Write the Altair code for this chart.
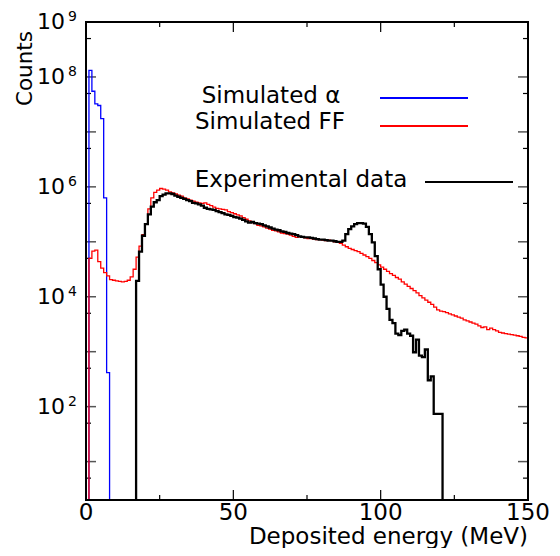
import altair as alt
import pandas as pd

# ---- data (log10 of counts per 1 MeV bin) ----
alpha_start = 1
alpha_log10 = [8.12, 7.74, 7.51, 7.48, 7.24, 5.80, 2.62]

ff_start = 1
ff_log10 = [
    4.70, 4.83, 4.85, 4.64, 4.52, 4.44, 4.38, 4.31, 4.30, 4.29,
    4.28, 4.27, 4.28, 4.30, 4.36, 4.50, 4.72, 4.92, 5.13, 5.33,
    5.60, 5.80, 5.90, 5.94, 5.97, 5.96, 5.94, 5.91, 5.89, 5.87,
    5.85, 5.83, 5.80, 5.78, 5.76, 5.74, 5.72, 5.71, 5.70, 5.71,
    5.68, 5.66, 5.63, 5.61, 5.60, 5.59, 5.58, 5.55, 5.53, 5.51,
    5.49, 5.47, 5.44, 5.41, 5.38, 5.35, 5.33, 5.30, 5.29, 5.27,
    5.25, 5.23, 5.21, 5.20, 5.18, 5.16, 5.15, 5.14, 5.12, 5.10,
    5.08, 5.09, 5.08, 5.07, 5.06, 5.06, 5.05, 5.04, 5.04, 5.03,
    5.02, 5.03, 5.02, 5.00, 4.99, 4.97, 4.94, 4.91, 4.88, 4.86,
    4.84, 4.82, 4.79, 4.76, 4.73, 4.70, 4.66, 4.62, 4.58, 4.54,
    4.50, 4.46, 4.42, 4.39, 4.35, 4.32, 4.27, 4.23, 4.19, 4.15,
    4.11, 4.07, 4.02, 3.98, 3.94, 3.90, 3.86, 3.81, 3.76, 3.74,
    3.73, 3.71, 3.69, 3.67, 3.65, 3.63, 3.61, 3.58, 3.56, 3.54,
    3.52, 3.50, 3.47, 3.44, 3.45, 3.40, 3.43, 3.40, 3.38, 3.35,
    3.34, 3.33, 3.32, 3.31, 3.30, 3.29, 3.28, 3.26, 3.25,
]

exp_start = 17
exp_log10 = [
    4.29, 4.82, 5.11, 5.32, 5.50, 5.64, 5.72, 5.76, 5.83, 5.86,
    5.88, 5.88, 5.87, 5.84, 5.82, 5.80, 5.78, 5.76, 5.74, 5.71,
    5.70, 5.68, 5.66, 5.62, 5.60, 5.59, 5.58, 5.56, 5.54, 5.52,
    5.50, 5.49, 5.47, 5.45, 5.44, 5.42, 5.40, 5.37, 5.35, 5.36,
    5.34, 5.33, 5.32, 5.30, 5.28, 5.26, 5.24, 5.22, 5.21, 5.19,
    5.18, 5.16, 5.15, 5.14, 5.12, 5.10, 5.09, 5.08, 5.08, 5.07,
    5.06, 5.05, 5.04, 5.04, 5.03, 5.02, 5.02, 5.01, 5.00, 5.00,
    5.02, 5.14, 5.23, 5.28, 5.32, 5.34, 5.34, 5.33, 5.27, 5.14,
    4.99, 4.74, 4.50, 4.22, 4.00, 3.78, 3.58, 3.52, 3.33, 3.30,
    3.38, 3.40, 3.33, 3.29, 2.99, 3.22, 2.93, 2.90, 3.04, 2.48,
    2.55, 1.87, 1.87, 1.87,
]

x_major = [0, 50, 100, 150]
x_minor = [25, 75, 125]
x_labels = ["0", "50", "100", "150"]
y_major = [1e1, 1e2, 1e3, 1e4, 1e5, 1e6, 1e7, 1e8, 1e9]
y_minor = [5, 5e1, 5e2, 5e3, 5e4, 5e5, 5e6, 5e7, 5e8]
y_label_vals = [1e2, 1e4, 1e6, 1e8, 1e9]
y_label_exps = ["2", "4", "6", "8", "9"]

W, H = 442, 478
FONT = "DejaVu Sans"
TINY = 0.5  # below the axis minimum, clipped


def hist_frame(start, logs, drop_end=True):
    rows = [(start, TINY)]
    for i, v in enumerate(logs):
        rows.append((start + i, 10 ** v))
    end = start + len(logs)
    rows.append((end, 10 ** logs[-1]))
    if drop_end:
        rows.append((end, TINY))
    return pd.DataFrame({"E": [r[0] for r in rows], "C": [r[1] for r in rows],
                         "i": list(range(len(rows)))})


xs = alt.Scale(domain=[0, 150], nice=False, zero=False)
ys = alt.Scale(type="log", domain=[2, 1e9], nice=False)


def hist_layer(df, color, width):
    return alt.Chart(df).mark_line(interpolate="step-after", clip=True,
                                   color=color, strokeWidth=width).encode(
        x=alt.X("E:Q", scale=xs, axis=None),
        y=alt.Y("C:Q", scale=ys, axis=None),
        order="i:Q",
    )


blue = hist_layer(hist_frame(alpha_start, alpha_log10), "#0000ff", 1.3)
red = hist_layer(hist_frame(ff_start, ff_log10, drop_end=False), "#ff0000", 1.3)
black = hist_layer(hist_frame(exp_start, exp_log10), "#000000", 2.3)

# ---- ticks (inside the frame, on all four sides) ----
ymaj = pd.DataFrame({"v": y_major})
ymin = pd.DataFrame({"v": y_minor})
xmaj = pd.DataFrame({"v": x_major})
xmin = pd.DataFrame({"v": x_minor})


def ytick(df, x0, x1, color, sw):
    return alt.Chart(df).mark_rule(color=color, strokeWidth=sw).encode(
        y=alt.Y("v:Q", scale=ys, axis=None), x=alt.value(x0), x2=alt.value(x1))


def xtick(df, y0, y1, color, sw):
    return alt.Chart(df).mark_rule(color=color, strokeWidth=sw).encode(
        x=alt.X("v:Q", scale=xs, axis=None), y=alt.value(y0), y2=alt.value(y1))


ticks = [
    ytick(ymaj, 0, 10, "#555555", 1.5), ytick(ymin, 0, 5, "#000000", 1.2),
    ytick(ymaj, W - 10, W, "#555555", 1.5), ytick(ymin, W - 5, W, "#000000", 1.2),
    xtick(xmaj, H, H - 10, "#000000", 1.2), xtick(xmin, H, H - 5, "#000000", 1.2),
    xtick(xmaj, 0, 10, "#000000", 1.2), xtick(xmin, 0, 5, "#000000", 1.2),
]

# ---- frame ----
frame = alt.Chart(pd.DataFrame({"a": [0]})).mark_rect(
    fill=None, stroke="#000000", strokeWidth=2).encode(
    x=alt.value(0), x2=alt.value(W), y=alt.value(0), y2=alt.value(H))

# ---- tick labels ----
ylab = pd.DataFrame({"v": y_label_vals, "e": y_label_exps})
ylab_base = alt.Chart(ylab).mark_text(align="right", baseline="middle", fontSize=22,
                                      font=FONT, dx=-21).encode(
    y=alt.Y("v:Q", scale=ys, axis=None), x=alt.value(0), text=alt.value("10"))
ylab_exp = alt.Chart(ylab).mark_text(align="left", baseline="middle", fontSize=14,
                                     font=FONT, dx=-18, dy=-5).encode(
    y=alt.Y("v:Q", scale=ys, axis=None), x=alt.value(0), text="e:N")

xlab = alt.Chart(pd.DataFrame({"v": x_major, "t": x_labels})).mark_text(
    align="center", baseline="middle", fontSize=23, font=FONT).encode(
    x=alt.X("v:Q", scale=xs, axis=None), y=alt.value(H + 13), text="t:N")


def label(txt, x, y, size=23, align="center", angle=0, baseline="middle"):
    return alt.Chart(pd.DataFrame({"t": [txt]})).mark_text(
        align=align, baseline=baseline, fontSize=size, font=FONT, angle=angle,
        color="#000000").encode(x=alt.value(x), y=alt.value(y), text="t:N")


xtitle = label("Deposited energy (MeV)", W, H + 44, size=23, align="right",
               baseline="alphabetic")
ytitle = label("Counts", -60, 9, size=21.5, align="right", angle=270)

# ---- legend ----
def leg_line(x0, x1, y, color, sw):
    return alt.Chart(pd.DataFrame({"a": [0]})).mark_rule(color=color, strokeWidth=sw).encode(
        x=alt.value(x0), x2=alt.value(x1), y=alt.value(y))


legend = [
    label("Simulated \u03b1", 185, 74),
    label("Simulated FF", 184, 100),
    label("Experimental data", 215, 158),
    leg_line(294, 382, 76, "#0000ff", 1.8),
    leg_line(294, 382, 104, "#ff0000", 1.8),
    leg_line(339, 427, 160, "#000000", 1.8),
]

chart = alt.layer(
    *ticks, blue, red, black, frame, ylab_base, ylab_exp, xlab, xtitle, ytitle, *legend
).properties(
    width=W, height=H,
    autosize=alt.AutoSizeParams(type="none"),
    padding={"left": 78, "top": 14, "right": 22, "bottom": 48},
).configure_view(stroke=None)

chart.save("out.html", embed_options={"renderer": "svg", "actions": False})
